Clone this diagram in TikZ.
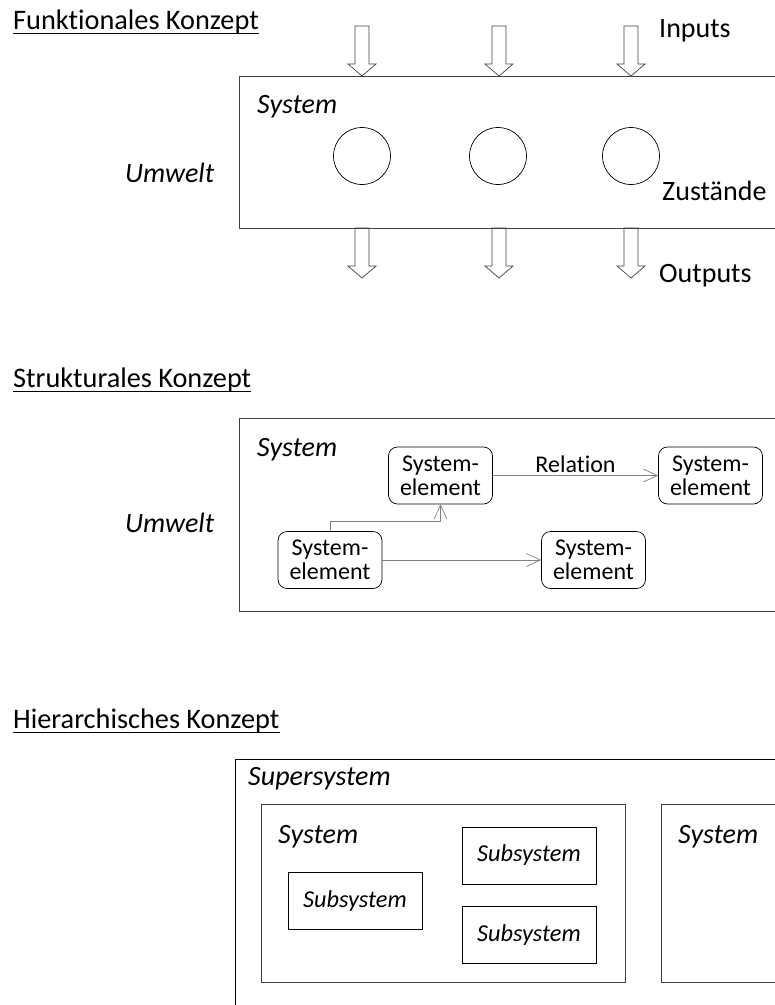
\documentclass[tikz,border=0pt]{standalone}
\usepackage{fontspec}
\setmainfont{Carlito}[Ligatures=NoCommon]
\usetikzlibrary{arrows.meta}
\begin{document}
\begin{tikzpicture}[x=1pt,y=-1pt,>={Straight Barb[length=14pt,width=13pt]},
  lbl/.style={inner sep=0,anchor=base west,font=\fontsize{28}{32}\selectfont},
  ital/.style={lbl,font=\fontsize{28}{32}\selectfont\itshape},
  heading/.style={lbl,font=\fontsize{28.3}{32}\selectfont},
  uline/.style={line width=1.4pt},
  frame/.style={draw=black!75,line width=0.8pt},
  blockarrow/.style={draw=black!75,line width=0.7pt,line join=miter},
  zustand/.style={circle,draw,line width=0.7pt,minimum size=57pt,inner sep=0},
  element/.style={draw,rounded corners=9pt,line width=0.7pt,minimum width=104pt,minimum height=57pt,inner sep=0,align=center,font=\fontsize{24}{24}\selectfont},
  rel/.style={->,draw=black!50,line width=0.7pt},
  subsys/.style={draw,line width=0.7pt,minimum width=134pt,minimum height=57pt,inner sep=0,font=\fontsize{24.3}{26}\selectfont\itshape}]
\useasboundingbox (0,0) rectangle (775,1005);
\clip (0,0) rectangle (775,1005);
%Funktionales Konzept
\node[heading] (tf) at (13,29) {Funktionales Konzept};
\draw[uline] ([yshift=-4.5pt]tf.base west) -- ([yshift=-4.5pt]tf.base east);
\draw[frame] (239,76) rectangle (800,228);
\node[ital] (sf) at (257,113) {System};
\node[ital] (uf) at (125,182) {Umwelt};
%Inputs
\draw[blockarrow] (355,26) -- ++(14,0) -- ++(0,38) -- ++(7,0) -- ++(-14,12) -- ++(-14,-12) -- ++(7,0) -- cycle;
\draw[blockarrow] (492,26) -- ++(14,0) -- ++(0,38) -- ++(7,0) -- ++(-14,12) -- ++(-14,-12) -- ++(7,0) -- cycle;
\draw[blockarrow] (624,26) -- ++(14,0) -- ++(0,38) -- ++(7,0) -- ++(-14,12) -- ++(-14,-12) -- ++(7,0) -- cycle;
\node[lbl] (in) at (659,37) {Inputs};
%Zustaende
\node[zustand] (z1) at (362,156) {};
\node[zustand] (z2) at (498,156) {};
\node[zustand] (z3) at (631,156) {};
\node[lbl] (zu) at (662,200) {Zustände};
%Outputs
\draw[blockarrow] (355,228) -- ++(14,0) -- ++(0,38) -- ++(7,0) -- ++(-14,12) -- ++(-14,-12) -- ++(7,0) -- cycle;
\draw[blockarrow] (492,228) -- ++(14,0) -- ++(0,38) -- ++(7,0) -- ++(-14,12) -- ++(-14,-12) -- ++(7,0) -- cycle;
\draw[blockarrow] (624,228) -- ++(14,0) -- ++(0,38) -- ++(7,0) -- ++(-14,12) -- ++(-14,-12) -- ++(7,0) -- cycle;
\node[lbl] (out) at (659,282) {Outputs};
%Strukturales Konzept
\node[heading] (ts) at (13,387) {Strukturales Konzept};
\draw[uline] ([yshift=-4.5pt]ts.base west) -- ([yshift=-4.5pt]ts.base east);
\draw[frame] (239,418) rectangle (800,611);
\node[ital] (ss) at (257,456) {System};
\node[ital] (us) at (125,532) {Umwelt};
\node[element] (ea) at (440.5,475.5) {System-\\element};
\node[element] (eb) at (710.5,475.5) {System-\\element};
\node[element] (ec) at (330,560) {System-\\element};
\node[element] (ed) at (593.5,560) {System-\\element};
\draw[rel] (ea) -- node[midway,above,inner sep=2.5pt,text=black,font=\fontsize{24}{24}\selectfont] {Relation} (eb);
\draw[rel] (ec.north) -- ++(0,-10) -| (ea.south);
\draw[rel] (ec) -- (ed);
%Hierarchisches Konzept
\node[heading] (th) at (13,728) {Hierarchisches Konzept};
\draw[uline] ([yshift=-4.5pt]th.base west) -- ([yshift=-4.5pt]th.base east);
\draw[frame,draw=black] (235,759) rectangle (800,1020);
\node[ital] (sup) at (248,785) {Supersystem};
\draw[frame] (261,804) rectangle (625,982);
\node[ital] (sh1) at (278,843) {System};
\draw[frame] (661,804) rectangle (800,982);
\node[ital] (sh2) at (678,843) {System};
\node[subsys] (sub1) at (355,901) {Subsystem};
\node[subsys] (sub2) at (529,855.5) {Subsystem};
\node[subsys] (sub3) at (529,935) {Subsystem};
\end{tikzpicture}
\end{document}
